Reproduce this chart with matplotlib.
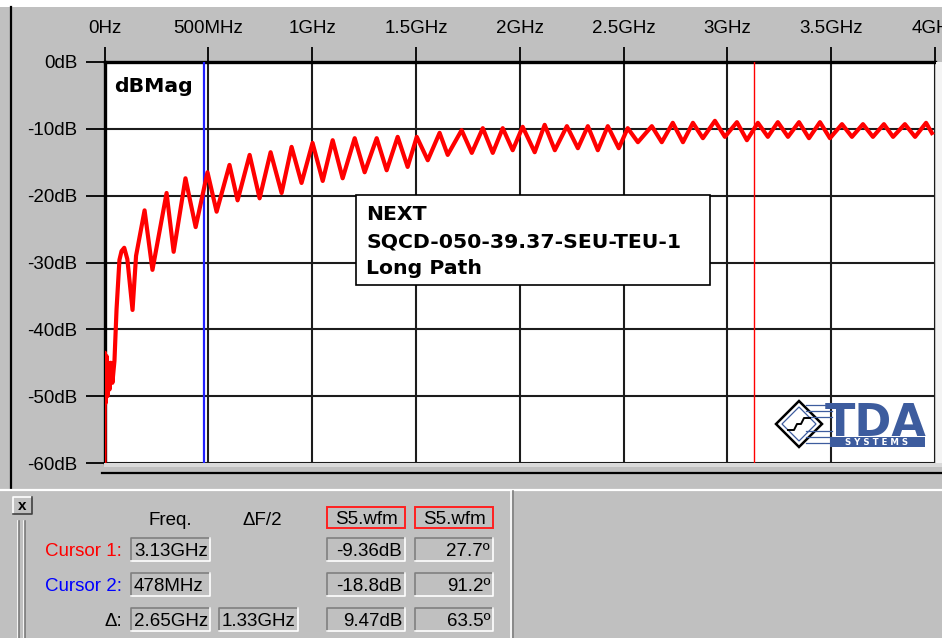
import matplotlib
matplotlib.use("Agg")
import matplotlib.pyplot as plt
from matplotlib.patches import Rectangle, Polygon

plt.rcParams['font.family'] = ['Liberation Sans', 'DejaVu Sans']

# NEXT magnitude trace (GHz, dB)
freq_ghz = [0.000, 0.002, 0.006, 0.010, 0.014, 0.018, 0.024, 0.030, 0.038, 0.048,
            0.058, 0.072, 0.082, 0.095, 0.110, 0.135,
            0.152, 0.193, 0.231, 0.299, 0.333, 0.390, 0.439, 0.496, 0.540,
            0.602, 0.641, 0.699, 0.747, 0.800, 0.853, 0.901, 0.949, 1.002, 1.051,
            1.099, 1.147, 1.205, 1.253, 1.311, 1.359, 1.412, 1.460, 1.504, 1.557,
            1.614, 1.653, 1.720, 1.769, 1.822, 1.870, 1.918, 1.966, 2.014, 2.072,
            2.120, 2.169, 2.227, 2.280, 2.328, 2.376, 2.424, 2.477, 2.520, 2.569,
            2.636, 2.684, 2.737, 2.786, 2.834, 2.882, 2.940, 2.988, 3.046, 3.094,
            3.147, 3.195, 3.243, 3.292, 3.345, 3.393, 3.446, 3.494, 3.552, 3.600,
            3.653, 3.701, 3.754, 3.798, 3.855, 3.904, 3.957, 3.990]
mag_db = [-60, -43.5, -51, -44, -50, -45, -49, -45, -48, -44.7,
          -37, -29.6, -28.3, -27.8, -29.5, -37.1,
          -29.0, -22.2, -31.1, -19.6, -28.4, -17.4, -24.7, -16.5, -22.4,
          -15.4, -20.7, -13.9, -20.4, -13.5, -19.6, -12.7, -18.1, -12.1, -17.8,
          -11.7, -17.4, -11.4, -16.5, -11.4, -16.2, -11.2, -15.7, -11.2, -14.7,
          -10.6, -13.9, -10.2, -13.6, -9.9, -13.6, -9.9, -13.2, -9.7, -13.5,
          -9.4, -13.2, -9.6, -12.9, -9.6, -13.2, -9.6, -12.9, -9.9, -12.0,
          -9.6, -12.0, -9.1, -12.0, -9.1, -11.4, -8.8, -11.2, -9.0, -11.7,
          -9.1, -11.2, -9.0, -11.2, -9.0, -11.4, -9.0, -11.4, -9.3, -11.2,
          -9.3, -11.2, -9.3, -11.2, -9.3, -11.2, -9.1, -10.9]

x_ticks = [0, 0.5, 1, 1.5, 2, 2.5, 3, 3.5, 4]
x_labels = ['0Hz', '500MHz', '1GHz', '1.5GHz', '2GHz', '2.5GHz', '3GHz', '3.5GHz', '4GHz']
y_ticks = [0, -10, -20, -30, -40, -50, -60]
y_labels = ['0dB', '-10dB', '-20dB', '-30dB', '-40dB', '-50dB', '-60dB']

cursor_freq = [3.13, 0.478]
cursor_color = ['#ff0000', '#2020ff']
cursor_width = [1.0, 1.6]

# cursor readout panel
row_names = ['Cursor 1:', 'Cursor 2:', '\u0394:']
row_colors = ['#ff0000', '#0000ff', 'black']
row_freq = ['3.13GHz', '478MHz', '2.65GHz']
row_half = [None, None, '1.33GHz']
row_db = ['-9.36dB', '-18.8dB', '9.47dB']
row_deg = ['27.7\u00ba', '91.2\u00ba', '63.5\u00ba']

W, H = 942, 638
GREY = '#c0c0c0'
fig = plt.figure(figsize=(W / 100, H / 100), dpi=100, facecolor=GREY)

# main plot, placed in pixel units
L, R, T, B = 104.5, 935, 62, 463
ax = fig.add_axes([L / W, 1 - B / H, (R - L) / W, (B - T) / H], zorder=2)
ax.set_facecolor('white')
ax.set_xlim(0, 4)
ax.set_ylim(-60, 0)
ax.xaxis.tick_top()
ax.set_xticks(x_ticks, x_labels)
ax.set_yticks(y_ticks, y_labels)
ax.tick_params(axis='x', length=11, width=1.3, pad=7, labelsize=13.5, colors='black')
ax.tick_params(axis='y', length=14, width=1.3, pad=5.5, labelsize=13.5, colors='black')
ax.grid(True, color='#1c1c1c', lw=1.5)
ax.set_axisbelow(True)
for s in ['right', 'bottom']:
    ax.spines[s].set_visible(False)
for s in ['left', 'top']:
    ax.spines[s].set_linewidth(2.4)
    ax.spines[s].set_color('black')

for f, c, w in zip(cursor_freq, cursor_color, cursor_width):
    ax.axvline(f, color=c, lw=w, zorder=3)
ax.plot(freq_ghz, mag_db, color='#ff0000', lw=3.0, solid_joinstyle='round',
        solid_capstyle='butt', zorder=4)

# overlay in screen pixels for the window furniture
ui = fig.add_axes([0, 0, 1, 1], zorder=5)
ui.set_xlim(0, W)
ui.set_ylim(H, 0)
ui.axis('off')
ui.patch.set_visible(False)

ui.add_patch(Rectangle((0, 0), W, 7, color='white', lw=0))
ui.plot([10.5, 10.5], [7, 488], color='black', lw=1.6)
ui.add_patch(Rectangle((936, 62), 6, 401, color='#f4f4f4', lw=0))
ui.add_patch(Rectangle((104, 463), W - 104, 4, color='#dadada', lw=0))
ui.plot([102, W], [473, 473], color='black', lw=1.6)
ui.plot([0, W], [490, 490], color='white', lw=1.6)

ui.text(114, 92, 'dBMag', fontsize=14.7, fontweight='bold', family='DejaVu Sans',
        va='baseline', ha='left')

# label box
ui.add_patch(Rectangle((356, 195), 354, 90, facecolor='white', edgecolor='black', lw=1.2))
for i, line in enumerate(['NEXT', 'SQCD-050-39.37-SEU-TEU-1', 'Long Path']):
    ui.text(366, 220 + 27 * i, line, fontsize=14.7, fontweight='bold',
            family='DejaVu Sans', va='baseline', ha='left')

# TDA logo
navy = '#3d5c9e'
for yy in [405, 411, 417, 431, 437, 443]:
    ui.plot([806, 832], [yy, yy], color=navy, lw=0.9)
ui.add_patch(Polygon([(799, 401), (822, 424), (799, 447), (776, 424)],
                     facecolor='white', edgecolor='black', lw=1.8))
ui.add_patch(Polygon([(799, 407), (816, 424), (799, 441), (782, 424)],
                     fill=False, edgecolor=navy, lw=0.9))
ui.plot([788, 794, 797, 801, 804, 810], [430, 430, 424, 424, 418, 418],
        color='black', lw=1.4)
ui.text(825, 436, 'TDA', fontsize=32, fontweight='bold', family='DejaVu Sans',
        color=navy, va='baseline', ha='left')
ui.add_patch(Rectangle((830, 437), 95, 10, color=navy, lw=0))
ui.text(877, 442.5, 'S Y S T E M S', fontsize=6.2, fontweight='bold', color='white',
        family='DejaVu Sans', ha='center', va='center')

# cursor panel
def sunken(x0, y0, x1, y1):
    ui.plot([x0, x0, x1], [y1, y0, y0], color='#808080', lw=1.2)
    ui.plot([x0, x1, x1], [y1, y1, y0], color='white', lw=1.2)

ui.add_patch(Rectangle((13, 497), 19, 17, facecolor=GREY, lw=0))
ui.plot([13, 13, 32], [514, 497, 497], color='white', lw=1.2)
ui.plot([13, 32, 32], [514, 514, 497], color='#404040', lw=1.2)
ui.text(22.5, 506, 'x', fontsize=11, fontweight='bold', ha='center', va='center')
for gx in [17.5, 23.5]:
    ui.plot([gx, gx], [521, H], color='white', lw=1.2)
    ui.plot([gx + 1.5, gx + 1.5], [521, H], color='#7a7a7a', lw=1.2)
ui.plot([511, 511], [491, H], color='white', lw=1.2)
ui.plot([513, 513], [491, H], color='#808080', lw=1.2)

fs = 13.5
ui.text(170, 525, 'Freq.', fontsize=fs, ha='center', va='baseline')
ui.text(262, 525, '\u0394F/2', fontsize=fs, ha='center', va='baseline')
for x0 in [327, 415]:
    ui.add_patch(Rectangle((x0, 507), 78, 21, facecolor=GREY, edgecolor='#ff2020', lw=1.4))
    ui.text(x0 + 39, 524, 'S5.wfm', fontsize=fs, ha='center', va='baseline')

for i in range(3):
    y0 = 538 + 35 * i
    y1 = y0 + 23
    base = y0 + 18
    ui.text(122, base, row_names[i], fontsize=fs, color=row_colors[i],
            ha='right', va='baseline')
    sunken(131, y0, 210, y1)
    ui.text(134, base, row_freq[i], fontsize=fs, ha='left', va='baseline')
    if row_half[i]:
        sunken(219, y0, 298, y1)
        ui.text(222, base, row_half[i], fontsize=fs, ha='left', va='baseline')
    sunken(327, y0, 405, y1)
    ui.text(402, base, row_db[i], fontsize=fs, ha='right', va='baseline')
    sunken(415, y0, 493, y1)
    ui.text(490, base, row_deg[i], fontsize=fs, ha='right', va='baseline')

fig.savefig('out.png', dpi=100, facecolor=GREY)
